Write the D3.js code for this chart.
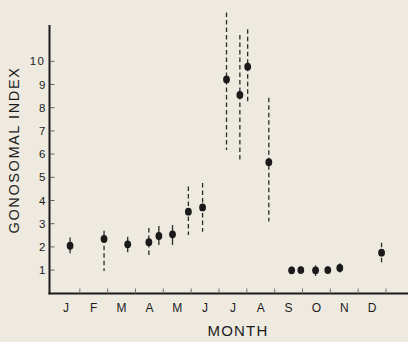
<!DOCTYPE html>
<html>
<head>
<meta charset="utf-8">
<script src="https://cdn.jsdelivr.net/npm/d3@7"></script>
<style>
  html, body { margin: 0; padding: 0; background: #eeeae0; }
  svg { display: block; }
  text { font-family: "Liberation Sans", Arial, Helvetica, sans-serif; fill: #1c1c1c; }
</style>
</head>
<body>
<svg id="chart" width="408" height="342"></svg>
<script>
// Month labels along the bottom axis
const monthLabels = ["J", "F", "M", "A", "M", "J", "J", "A", "S", "O", "N", "D"];

// Sample time, in months from 1 January
const sampleTime = [0.65, 1.87, 2.72, 3.48, 3.84, 4.33, 4.90, 5.41, 6.27, 6.75, 7.03, 7.79, 8.61, 8.94, 9.47, 9.91, 10.34, 11.84];
// Mean gonosomal index per sample
const meanIndex  = [2.05, 2.34, 2.11, 2.20, 2.47, 2.54, 3.52, 3.70, 9.22, 8.55, 9.77, 5.65, 0.99, 1.00, 0.99, 1.00, 1.09, 1.75];
// Range of the index per sample
const rangeHigh  = [2.40, 2.70, 2.44, 2.82, 2.90, 2.94, 4.60, 4.75, 12.1, 11.13, 11.38, 8.43, 1.15, 1.16, 1.20, 1.15, 1.30, 2.18];
const rangeLow   = [1.73, 0.96, 1.77, 1.58, 2.08, 2.08, 2.51, 2.65, 6.18, 5.65, 8.19, 3.10, 0.85, 0.86, 0.75, 0.86, 0.90, 1.29];
// Whether the range is drawn as a broken line
const rangeDashed = [false, true, false, true, false, false, true, true, true, true, true, true, false, false, false, false, false, true];

// Y tick values
const yTicks = [1, 2, 3, 4, 5, 6, 7, 8, 9, 10];

const svg = d3.select("#chart");

const x = d3.scaleLinear().domain([0, 12]).range([52, 386]);
const y = d3.scaleLinear().domain([0, 10]).range([293.3, 61.3]);

const ink = "#1a1a1a";

// Y axis
const yAxis = svg.append("g").attr("transform", "translate(49.5,0)");
yAxis.append("line")
  .attr("x1", 0).attr("x2", 0)
  .attr("y1", 25).attr("y2", 294.3)
  .attr("stroke", ink).attr("stroke-width", 2);
yAxis.selectAll(".ytick").data(yTicks).join("line")
  .attr("x1", 0).attr("x2", 5)
  .attr("y1", d => y(d)).attr("y2", d => y(d))
  .attr("stroke", "#555").attr("stroke-width", 0.9);
yAxis.selectAll(".ylab").data(yTicks).join("text")
  .attr("x", -4).attr("y", d => y(d))
  .attr("dy", "0.36em")
  .attr("text-anchor", "end")
  .attr("font-size", 11.5)
  .attr("fill", "#2a2a2a")
  .attr("letter-spacing", d => d >= 10 ? 1.5 : 0)
  .text(d => d);

// X axis
const xAxis = svg.append("g").attr("transform", "translate(0,293.5)");
xAxis.append("line")
  .attr("x1", 48.5).attr("x2", 408)
  .attr("y1", 0).attr("y2", 0)
  .attr("stroke", ink).attr("stroke-width", 2);
xAxis.selectAll(".xtick").data(d3.range(1, 13)).join("line")
  .attr("x1", d => x(d)).attr("x2", d => x(d))
  .attr("y1", 0).attr("y2", -5)
  .attr("stroke", "#666").attr("stroke-width", 0.9);
xAxis.selectAll(".xlab").data(monthLabels).join("text")
  .attr("x", (d, i) => x(i + 0.5))
  .attr("y", 18)
  .attr("text-anchor", "middle")
  .attr("font-size", 12)
  .text(d => d);

// Axis titles
svg.append("text")
  .attr("transform", "translate(19,150) rotate(-90)")
  .attr("text-anchor", "middle")
  .attr("font-size", 14.5)
  .attr("letter-spacing", 1.6)
  .text("GONOSOMAL  INDEX");

svg.append("text")
  .attr("x", 238).attr("y", 336)
  .attr("text-anchor", "middle")
  .attr("font-size", 15)
  .attr("letter-spacing", 1.2)
  .text("MONTH");

// Samples
const samples = sampleTime.map((t, i) => ({
  t, mean: meanIndex[i], hi: rangeHigh[i], lo: rangeLow[i], dashed: rangeDashed[i]
}));

svg.append("g").selectAll("line").data(samples).join("line")
  .attr("x1", d => x(d.t)).attr("x2", d => x(d.t))
  .attr("y1", d => y(d.hi)).attr("y2", d => y(d.lo))
  .attr("stroke", "#2a2a2a")
  .attr("stroke-width", 1.3)
  .attr("stroke-dasharray", d => d.dashed ? "4.5,3" : null);

svg.append("g").selectAll("ellipse").data(samples).join("ellipse")
  .attr("cx", d => x(d.t)).attr("cy", d => y(d.mean))
  .attr("rx", 3.4).attr("ry", 3.9)
  .attr("fill", ink);
</script>
</body>
</html>
